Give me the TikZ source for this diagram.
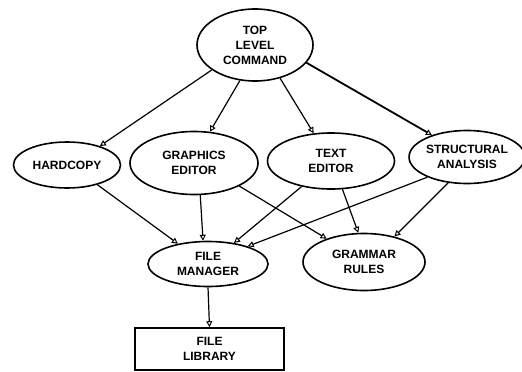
\documentclass[tikz,border=0pt]{standalone}
\usepackage{fontspec}
\setmainfont{Liberation Sans}
\usetikzlibrary{shapes.geometric,arrows.meta}
\begin{document}
\begin{tikzpicture}[x=1pt,y=-1pt,
  lbl/.style={font=\fontsize{12}{15}\selectfont\bfseries, align=center, inner sep=0pt},
  ell/.style={lbl, ellipse, draw, line width=1.6pt},
  box/.style={lbl, rectangle, draw, line width=1.6pt},
  conn/.style={line width=1.2pt, -{Triangle[open,length=6pt,width=6pt,line width=1pt]}},
]
\useasboundingbox (0,0) rectangle (522,372);
\node[ell, minimum width=116pt, minimum height=72pt] (top) at (255,45) {TOP\\LEVEL\\COMMAND};
\node[ell, minimum width=107pt, minimum height=46pt] (hard) at (67,165) {HARDCOPY};
\node[ell, minimum width=128pt, minimum height=63pt] (graph) at (194,163) {GRAPHICS\\EDITOR};
\node[ell, minimum width=127pt, minimum height=56pt] (text) at (331,161) {TEXT\\EDITOR};
\node[ell, minimum width=108pt, minimum height=53pt] (struct) at (467,157) {STRUCTURAL\\ANALYSIS};
\node[ell, minimum width=120pt, minimum height=45pt] (fm) at (208,264) {FILE\\MANAGER};
\node[ell, minimum width=122pt, minimum height=57pt] (gr) at (364,262) {GRAMMAR\\RULES};
\node[box, minimum width=149pt, minimum height=42pt] (lib) at (209.5,349) {FILE\\LIBRARY};

\draw[conn] (top.210) -- (hard.30);
\draw[conn] (top.247) -- (graph.63);
\draw[conn] (top.307) -- (text.122);
\draw[conn, line width=1.8pt] (top.341) -- (struct.148);
\draw[conn] (hard.327) -- (fm.146);
\draw[conn] (graph.281) -- (fm.102);
\draw[conn] (graph.333) -- (gr.148);
\draw[conn] (text.221) -- (fm.39);
\draw[conn] (text.292) -- (gr.101);
\draw[conn] (struct.207) -- (fm.24);
\draw[conn] (struct.234) -- (gr.40);
\draw[conn] (fm.south) -- (lib.north);
\end{tikzpicture}
\end{document}
